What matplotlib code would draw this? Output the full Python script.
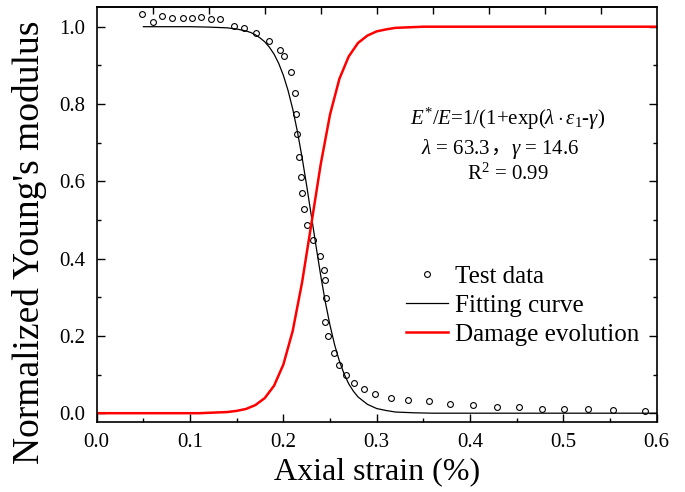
import matplotlib
matplotlib.use("Agg")
import matplotlib.pyplot as plt
from matplotlib.ticker import MultipleLocator, FormatStrFormatter, NullLocator

plt.rcParams["font.family"] = "Liberation Serif"
plt.rcParams["mathtext.fontset"] = "custom"
plt.rcParams["mathtext.rm"] = "Liberation Serif"
plt.rcParams["mathtext.it"] = "Liberation Serif:italic"
plt.rcParams["mathtext.bf"] = "Liberation Serif:bold"

# test data (axial strain %, normalized Young's modulus)
test_strain = [0.049, 0.060, 0.070, 0.081, 0.092, 0.102, 0.112, 0.122, 0.132,
               0.147, 0.158, 0.171, 0.185, 0.196, 0.201, 0.208, 0.212, 0.214,
               0.215, 0.217, 0.219, 0.220, 0.222, 0.225, 0.232, 0.239, 0.243,
               0.245, 0.246, 0.245, 0.248, 0.254, 0.260, 0.267, 0.276, 0.286,
               0.298, 0.315, 0.333, 0.356, 0.379, 0.403, 0.429, 0.452, 0.477,
               0.501, 0.526, 0.553, 0.587]
test_modulus = [1.034, 1.011, 1.027, 1.023, 1.023, 1.023, 1.025, 1.021, 1.021,
                1.003, 0.997, 0.984, 0.962, 0.940, 0.923, 0.882, 0.829, 0.775,
                0.723, 0.664, 0.612, 0.571, 0.528, 0.488, 0.448, 0.408, 0.371,
                0.345, 0.299, 0.237, 0.200, 0.155, 0.124, 0.100, 0.079, 0.062,
                0.050, 0.040, 0.035, 0.032, 0.025, 0.022, 0.017, 0.016, 0.012,
                0.012, 0.010, 0.008, 0.006]

# fitting curve E*/E
fit_strain = [0.05, 0.10, 0.12, 0.14, 0.15, 0.16, 0.165, 0.17, 0.175, 0.18,
              0.185, 0.19, 0.195, 0.20, 0.205, 0.21, 0.215, 0.22, 0.225, 0.23,
              0.235, 0.24, 0.245, 0.25, 0.255, 0.26, 0.265, 0.27, 0.275, 0.28,
              0.29, 0.30, 0.31, 0.32, 0.33, 0.34, 0.36, 0.40, 0.50, 0.60]
fit_modulus = [1.000, 1.000, 0.999, 0.997, 0.994, 0.989, 0.985, 0.979, 0.971, 0.961,
               0.947, 0.929, 0.905, 0.874, 0.835, 0.787, 0.729, 0.662, 0.588, 0.510,
               0.432, 0.356, 0.287, 0.227, 0.176, 0.135, 0.102, 0.076, 0.057, 0.042,
               0.023, 0.012, 0.007, 0.003, 0.002, 0.001, 0.000, 0.000, 0.000, 0.000]

# damage evolution
dmg_strain = [0.00, 0.05, 0.10, 0.11, 0.12, 0.13, 0.14, 0.15, 0.16, 0.17, 0.18,
              0.19, 0.20, 0.21, 0.22, 0.23, 0.24, 0.25, 0.26, 0.27, 0.28, 0.29,
              0.30, 0.31, 0.32, 0.33, 0.34, 0.35, 0.40, 0.50, 0.60]
dmg_value = [0.000, 0.000, 0.000, 0.000, 0.001, 0.002, 0.003, 0.006, 0.011, 0.021, 0.039,
             0.071, 0.126, 0.213, 0.338, 0.490, 0.644, 0.773, 0.865, 0.923, 0.958, 0.977,
             0.988, 0.993, 0.997, 0.998, 0.999, 1.000, 1.000, 1.000, 1.000]

top_ticks = [0.06, 0.12, 0.18, 0.24, 0.30, 0.36, 0.42, 0.48, 0.54]

fig = plt.figure(figsize=(6.85, 4.92), dpi=100)
ax = fig.add_axes([0.1412, 0.1429, 0.8175, 0.8421])

ax.plot(test_strain, test_modulus, "o", ms=4.2, mfc="none", mec="black", mew=0.8,
        label="Test data")
ax.plot(fit_strain, fit_modulus, "-", color="black", lw=0.9, label="Fitting curve")
ax.plot(dmg_strain, dmg_value, "-", color="red", lw=1.8, label="Damage evolution")

ax.set_xlim(0, 0.6)
ax.set_ylim(-0.022, 1.05)
ax.xaxis.set_major_locator(MultipleLocator(0.1))
ax.xaxis.set_minor_locator(MultipleLocator(0.05))
ax.yaxis.set_major_locator(MultipleLocator(0.2))
ax.yaxis.set_minor_locator(MultipleLocator(0.1))
ax.xaxis.set_major_formatter(FormatStrFormatter("%.1f"))
ax.yaxis.set_major_formatter(FormatStrFormatter("%.1f"))
ax.tick_params(which="both", direction="in", top=False, right=True, width=1.0)
ax.tick_params(which="major", length=6, labelsize=15, pad=8)
ax.tick_params(which="minor", length=3)
for s in ax.spines.values():
    s.set_linewidth(1.2)

# top axis carries its own tick spacing
sec = ax.secondary_xaxis("top")
sec.set_xticks(top_ticks)
sec.xaxis.set_minor_locator(NullLocator())
sec.tick_params(direction="in", length=5, width=1.0, labeltop=False)
sec.spines["top"].set_linewidth(1.2)

ax.set_xlabel("Axial strain (%)", fontsize=23, labelpad=4)
ax.set_ylabel("Normalized Young's modulus", fontsize=27)
# label anchor is its right edge (rotated "bottom")
ax.yaxis.set_label_coords(-0.088, 0.434)

leg = ax.legend(loc="upper left", bbox_to_anchor=(0.552, 0.378), frameon=False,
                fontsize=18, handlelength=1.7, handletextpad=0.25, labelspacing=0.27,
                borderpad=0, borderaxespad=0, numpoints=1)

# fitted equation
ax.text(0.4405, 0.746, r"$E^{*}/E$=1/(1+exp($\lambda\cdot\varepsilon_{1}$-$\gamma$)",
        fontsize=15, ha="center")
y2 = 0.671
t1 = ax.text(0.347, y2, r"$\lambda$ = 63.3", fontsize=15)
t2 = ax.annotate("，", xy=(1, y2), xycoords=(t1, "data"), va="baseline", fontsize=15,
                 family=["Noto Sans CJK SC", "DejaVu Sans"])
ax.annotate(r"$\gamma$ = 14.6", xy=(1, y2), xycoords=(t2, "data"), va="baseline",
            fontsize=15)
ax.text(0.4405, 0.604, r"R$^{2}$ = 0.99", fontsize=15, ha="center")

fig.savefig("out.png", dpi=100)
